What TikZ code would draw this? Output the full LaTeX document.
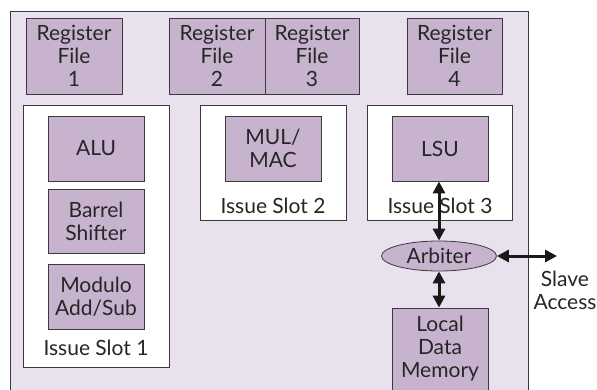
\documentclass[tikz,border=0pt]{standalone}
\usepackage{fontspec}
\setmainfont{Lato}
\usetikzlibrary{arrows.meta,shapes.geometric}
\definecolor{bgcol}{HTML}{E9E1EE}
\definecolor{boxcol}{HTML}{C8B3CE}
\definecolor{linecol}{HTML}{3A3A3A}
\tikzset{
  unit/.style={draw=linecol, fill=boxcol, line width=0.8pt, rectangle, inner sep=0pt,
    align=center, font=\fontsize{21}{23}\selectfont, text=black!85},
  slotbox/.style={draw=linecol, fill=white, line width=0.8pt},
  lbl/.style={inner sep=0pt, font=\fontsize{21}{23}\selectfont, text=black!85, align=center},
  biarrow/.style={{Triangle[width=12pt,length=12pt]}-{Triangle[width=12pt,length=12pt]}, line width=3pt, draw=black!90}
}
\begin{document}
\begin{tikzpicture}[x=1pt,y=-1pt]
\useasboundingbox (0,0) rectangle (597,389);
\begin{scope}
\clip (0,0) rectangle (597,389);
\draw[fill=bgcol, draw=linecol, line width=0.8pt] (10,11) rectangle (528,400);
\end{scope}
% register files
\node[unit, minimum width=96pt, minimum height=76pt] (rf1) at (74,56) {Register\\File\\1};
\node[unit, minimum width=96pt, minimum height=76pt] (rf2) at (217,56) {Register\\File\\2};
\node[unit, minimum width=94pt, minimum height=76pt] (rf3) at (312,56) {Register\\File\\3};
\node[unit, minimum width=95pt, minimum height=76pt] (rf4) at (454.5,56) {Register\\File\\4};
% issue slots
\draw[slotbox] (23,105) rectangle (169,367);
\draw[slotbox] (200,105) rectangle (346,220);
\draw[slotbox] (367,105) rectangle (512,220);
\node[unit, minimum width=96pt, minimum height=65pt] (alu) at (96,148.5) {ALU};
\node[unit, minimum width=96pt, minimum height=64pt] (bs) at (96,221) {Barrel\\Shifter};
\node[unit, minimum width=96pt, minimum height=65pt] (mod) at (96,296.5) {Modulo\\Add/Sub};
\node[lbl] (is1) at (96,348) {Issue Slot 1};
\node[unit, minimum width=96pt, minimum height=65pt] (mul) at (273,148.5) {MUL/\\MAC};
\node[lbl] (is2) at (273,206) {Issue Slot 2};
\node[unit, minimum width=96pt, minimum height=65pt] (lsu) at (440,148.5) {LSU};
\node[lbl] (is3) at (440,206) {Issue Slot 3};
% arbiter and memory
\node[draw=linecol, fill=boxcol, line width=0.8pt, ellipse, minimum width=115pt, minimum height=30pt, inner sep=0pt,
  font=\fontsize{21}{23}\selectfont, text=black!85] (arb) at (439,256) {Arbiter};
\node[unit, minimum width=96pt, minimum height=82pt] (ldm) at (440,349) {Local\\Data\\Memory};
\coordinate (sa) at (557,256);
\node[lbl] (slave) at (565,290) {Slave\\Access};
% arrows
\draw[biarrow] (lsu.south -| arb.north) -- (arb.north);
\draw[biarrow] (arb.south) -- (ldm.north -| arb.south);
\draw[biarrow] (arb.east) -- (sa);
\end{tikzpicture}
\end{document}
